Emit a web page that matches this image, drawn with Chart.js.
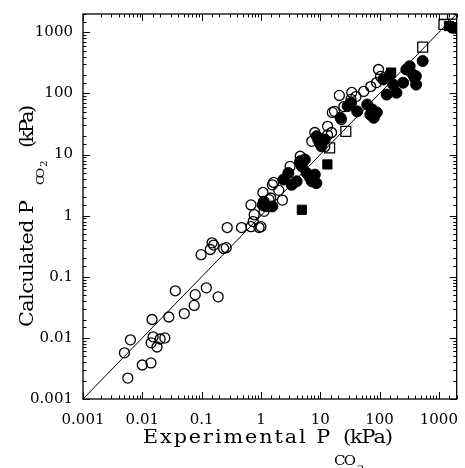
<!DOCTYPE html>
<html><head><meta charset="utf-8">
<script src="https://cdn.jsdelivr.net/npm/chart.js@4/dist/chart.umd.min.js"></script>
<style>html,body{margin:0;padding:0;background:#fff}</style>
</head><body>
<canvas id="c" width="465" height="468"></canvas>
<script>
// ---- data (Experimental vs Calculated P_CO2, kPa) ----
const axisMin = 0.001, axisMax = 2000;
const majorTicks = [0.001, 0.01, 0.1, 1, 10, 100, 1000];
const tickLabels = ['0.001', '0.01', '0.1', '1', '10', '100', '1000'];
const identityLine = [0.001, 2000];

const openCircleExp  = [0.005,0.0063,0.0057,0.010,0.014,0.0146,0.0141,0.0152,0.0177,0.020,0.024,0.028,0.036,0.051,0.075,0.078,0.098,0.12,0.14,0.16,0.19,0.235,0.26,0.27,0.47,0.68,0.77,0.74,1.0,0.68,0.93,1.56,1.08,1.64,2.3,2.0,1.46,1.13,1.37,8.1,9.1,11.9,13.3,15.5,17.4,21,25,33,40,54,71,89,96,104,22.7,13.3,7.2,16,34,0.15,3.1,4.6];
const openCircleCalc = [0.0057,0.0093,0.0022,0.0036,0.0039,0.020,0.0083,0.0104,0.0071,0.0096,0.010,0.022,0.059,0.025,0.034,0.051,0.23,0.066,0.28,0.33,0.047,0.29,0.30,0.64,0.64,1.5,1.04,0.80,0.66,0.66,0.64,3.2,2.4,3.5,1.8,2.6,1.95,1.18,1.83,23,17.6,13.5,29,23,51,93,61,80,89,108,130,151,247,190,37.5,21,16.5,49,104,0.36,6.4,9.4];

const filledCircleExp  = [1.56,1.12,3.3,4.0,4.9,6.7,7.2,4.6,5.5,11.1,10.5,29,33,42,62,70,75,132,150,170,193,250,283,322,390,414,534,1670,4.6,5.9,2.9,2.4,1.07,8.7,9.8,11.9,80,90,116,365,1870,410,22,8.1,8.6];
const filledCircleCalc = [1.42,1.7,3.2,3.65,6.4,4.2,3.65,7.8,8.3,17.6,13.7,62,70,51,66,45,55,96,205,140,103,150,247,280,180,140,340,1200,7.3,5.0,5.0,3.9,1.5,20,15.5,17.6,40,49,170,205,1180,192,40,4.7,3.4];

const openSquareExp  = [1700,1220,534,27,14.4];
const openSquareCalc = [1990,1350,574,24,12.9];

const filledSquareExp  = [4.9,13.2,1.3,1480,157];
const filledSquareCalc = [1.25,6.9,1.4,1270,220];

const pts = (xs, ys) => xs.map((v, i) => ({x: v, y: ys[i]}));

const isMajor = v => majorTicks.some(m => Math.abs(Math.log10(v) - Math.log10(m)) < 1e-6);
const labelFor = v => { const i = majorTicks.findIndex(m => Math.abs(Math.log10(v) - Math.log10(m)) < 1e-6); return i >= 0 ? tickLabels[i] : ''; };

const frameTicks = {
  id: 'frameTicks',
  afterDraw(chart) {
    const {ctx, chartArea: a, scales: {x, y}} = chart;
    ctx.save();
    ctx.strokeStyle = '#000';
    ctx.lineWidth = 1.3;
    ctx.strokeRect(a.left, a.top, a.right - a.left, a.bottom - a.top);
    ctx.lineWidth = 1;
    const seg = (x1, y1, x2, y2) => { ctx.beginPath(); ctx.moveTo(x1, y1); ctx.lineTo(x2, y2); ctx.stroke(); };
    x.ticks.forEach(t => {
      const p = Math.round(x.getPixelForValue(t.value)) + 0.5;
      if (p < a.left - 1 || p > a.right + 1) return;
      const L = isMajor(t.value) ? 7 : 3.5;
      seg(p, a.bottom, p, a.bottom - L);
      seg(p, a.top, p, a.top + L);
    });
    y.ticks.forEach(t => {
      const p = Math.round(y.getPixelForValue(t.value)) + 0.5;
      if (p < a.top - 1 || p > a.bottom + 1) return;
      const L = isMajor(t.value) ? 7 : 3.5;
      seg(a.left, p, a.left + L, p);
      seg(a.right, p, a.right - L, p);
    });
    ctx.restore();
  }
};

const FONT = '"DejaVu Serif", serif';
const STRETCH = 1.15;
// draw text starting at (u,v), widened (stretch + letter spacing) to span `width`
function fitText(ctx, text, u, v, width, size) {
  ctx.save();
  ctx.font = size + 'px ' + FONT;
  ctx.letterSpacing = '0px';
  const w0 = ctx.measureText(text).width * STRETCH;
  const sp = text.length > 1 ? (width - w0) / (text.length - 1) / STRETCH : 0;
  ctx.letterSpacing = sp.toFixed(2) + 'px';
  ctx.translate(u, v);
  ctx.scale(STRETCH, 1);
  ctx.fillText(text, 0, 0);
  ctx.restore();
}
const axisTitles = {
  id: 'axisTitles',
  afterDraw(chart) {
    const ctx = chart.ctx;
    ctx.save();
    ctx.fillStyle = '#000';
    ctx.textBaseline = 'alphabetic';
    ctx.textAlign = 'left';
    fitText(ctx, 'Experimental P', 143, 443, 187, 18);
    fitText(ctx, 'CO', 334, 465, 22, 13);
    fitText(ctx, '2', 357, 472, 6, 10);
    fitText(ctx, '(kPa)', 343, 443, 50, 18);
    ctx.restore();

    ctx.save();
    ctx.fillStyle = '#000';
    ctx.textBaseline = 'alphabetic';
    ctx.textAlign = 'left';
    ctx.translate(33, 327);
    ctx.rotate(-Math.PI / 2);
    fitText(ctx, 'Calculated P', 0, 0, 127, 18);
    fitText(ctx, 'CO', 142, 11, 17, 11);
    fitText(ctx, '2', 160, 14, 6, 9);
    fitText(ctx, '(kPa)', 179, 0, 43, 18);
    ctx.restore();
  }
};

const tickFont = {family: FONT, size: 15};
const zeroPad = s => { s.paddingTop = 0; s.paddingBottom = 0; s.paddingLeft = 0; s.paddingRight = 0; };

new Chart(document.getElementById('c'), {
  type: 'scatter',
  data: {
    datasets: [
      {type: 'line', data: pts(identityLine, identityLine), borderColor: '#000', borderWidth: 1, pointRadius: 0, fill: false},
      {data: pts(openCircleExp, openCircleCalc), pointStyle: 'circle', pointRadius: 5, pointBorderWidth: 1.3, borderColor: '#000', backgroundColor: 'rgba(0,0,0,0)'},
      {data: pts(filledCircleExp, filledCircleCalc), pointStyle: 'circle', pointRadius: 5.5, pointBorderWidth: 1, borderColor: '#000', backgroundColor: '#000'},
      {data: pts(openSquareExp, openSquareCalc), pointStyle: 'rect', pointRadius: 7, pointBorderWidth: 1.3, borderColor: '#000', backgroundColor: 'rgba(0,0,0,0)'},
      {data: pts(filledSquareExp, filledSquareCalc), pointStyle: 'rect', pointRadius: 6.5, pointBorderWidth: 1, borderColor: '#000', backgroundColor: '#000'}
    ]
  },
  options: {
    responsive: false,
    animation: false,
    devicePixelRatio: 1,
    layout: {padding: {left: 0, top: 14, right: 2, bottom: 0}},
    plugins: {legend: {display: false}, tooltip: {enabled: false}},
    scales: {
      x: {
        type: 'logarithmic', min: axisMin, max: axisMax,
        grid: {display: false, drawTicks: false},
        border: {display: false},
        ticks: {autoSkip: false, maxRotation: 0, padding: 12, color: '#000', font: tickFont, callback: v => labelFor(v)},
        afterFit: s => { s.height = 69; zeroPad(s); }
      },
      y: {
        type: 'logarithmic', min: axisMin, max: axisMax,
        grid: {display: false, drawTicks: false},
        border: {display: false},
        ticks: {autoSkip: false, padding: 10, color: '#000', font: tickFont, callback: v => labelFor(v)},
        afterFit: s => { s.width = 83; zeroPad(s); }
      }
    }
  },
  plugins: [frameTicks, axisTitles]
});
</script>
</body></html>
